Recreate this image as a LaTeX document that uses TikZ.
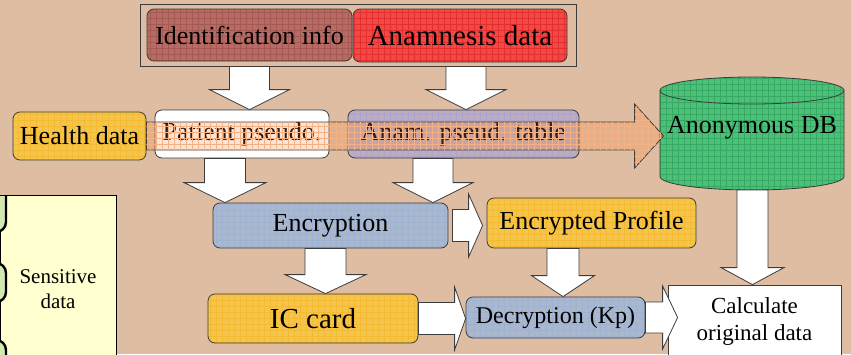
\documentclass[tikz,border=0pt]{standalone}
\usepackage{fontspec}
\setmainfont{Liberation Serif}
\newfontfamily\timesface{Liberation Serif}
\usetikzlibrary{calc}
\usetikzlibrary{patterns}
\usepackage{xcolor}

\definecolor{bgtan}{RGB}{222,189,163}
\definecolor{boxline}{RGB}{60,60,60}
\definecolor{idbrown}{RGB}{180,108,100}
\definecolor{idgrid}{RGB}{166,88,82}
\definecolor{anamred}{RGB}{240,74,70}
\definecolor{anamgrid}{RGB}{230,46,46}
\definecolor{gold}{RGB}{242,198,78}
\definecolor{goldgrid}{RGB}{246,186,50}
\definecolor{lilac}{RGB}{188,172,192}
\definecolor{lilacgrid}{RGB}{176,164,200}
\definecolor{steel}{RGB}{172,184,202}
\definecolor{steelgrid}{RGB}{158,178,212}
\definecolor{dbgreen}{RGB}{76,192,118}
\definecolor{dbgrid}{RGB}{54,170,100}
\definecolor{bandor}{RGB}{238,134,66}
\definecolor{bandgrid}{RGB}{244,178,132}
\definecolor{paleyellow}{RGB}{255,255,208}
\definecolor{leafgreen}{RGB}{212,232,178}

\pgfdeclarepatternformonly{cellgrid}{\pgfpoint{-.5pt}{-.5pt}}{\pgfpoint{6.5pt}{6.5pt}}{\pgfpoint{6pt}{6pt}}{%
 \pgfsetlinewidth{.4pt}
 \pgfpathmoveto{\pgfpoint{0pt}{0pt}}\pgfpathlineto{\pgfpoint{6pt}{0pt}}
 \pgfpathmoveto{\pgfpoint{0pt}{0pt}}\pgfpathlineto{\pgfpoint{0pt}{6pt}}
 \pgfusepath{stroke}}

% fat arrows: [style]{from}{to}{shaft half width}{head half width}{head length}
\newcommand{\downblock}[6][blockarrow]{%
 \draw[#1] let \p1=(#2), \p2=(#3) in
  (\x1-#4,\y1) -- (\x1-#4,\y2+#6) -- (\x1-#5,\y2+#6) -- (\x1,\y2)
  -- (\x1+#5,\y2+#6) -- (\x1+#4,\y2+#6) -- (\x1+#4,\y1) -- cycle;}
\newcommand{\rightblock}[6][blockarrow]{%
 \draw[#1] let \p1=(#2), \p2=(#3) in
  (\x1,\y1+#4) -- (\x2-#6,\y1+#4) -- (\x2-#6,\y1+#5) -- (\x2,\y1)
  -- (\x2-#6,\y1-#5) -- (\x2-#6,\y1-#4) -- (\x1,\y1-#4) -- cycle;}

\begin{document}
\begin{tikzpicture}[x=1pt,y=-1pt,
 box/.style={draw=boxline, line width=.8pt, rounded corners=7pt, inner sep=0pt, align=center, font=\timesface\fontsize{26}{30}\selectfont},
 gridbox/.style 2 args={box, preaction={fill=#1}, pattern=cellgrid, pattern color=#2},
 blockarrow/.style={draw=boxline, line width=.8pt, fill=white},
 bandarrow/.style={draw=boxline, line width=.8pt, fill=bandor, fill opacity=.22,
   postaction={pattern=cellgrid, pattern color=bandgrid}}]
\useasboundingbox (0,0) rectangle (851,354);
\clip (0,0) rectangle (851,354);
\fill[bgtan] (0,0) rectangle (851,354);

% sources
\draw[boxline, line width=.8pt] (140,4) rectangle (576,66);
\node[gridbox={idbrown}{idgrid}, minimum width=205pt, minimum height=52pt] (idinfo) at (249.5,35) {Identification info};
\node[gridbox={anamred}{anamgrid}, minimum width=214pt, minimum height=53pt, font=\timesface\fontsize{29}{33}\selectfont] (anam) at (460,35.5) {Anamnesis data};

% middle row
\node[gridbox={gold}{goldgrid}, minimum width=133pt, minimum height=48pt] (health) at (79.5,136) {Health data};
\node[box, fill=white, minimum width=174pt, minimum height=48pt] (pseudo) at (242,134) {Patient pseudo.};
\node[gridbox={lilac}{lilacgrid}, minimum width=231pt, minimum height=48pt] (anamtab) at (463.5,134) {Anam. pseud. table};

% database
\path[draw=boxline, line width=.8pt, preaction={fill=dbgreen}, pattern=cellgrid, pattern color=dbgrid]
 (660,90.5) -- (660,176.5) arc[start angle=180, end angle=0, x radius=92, y radius=13.5]
 -- (844,90.5) arc[start angle=0, end angle=-180, x radius=92, y radius=13.5] -- cycle;
\draw[boxline, line width=.8pt] (660,90.5) arc[start angle=180, end angle=0, x radius=92, y radius=13.5];
\node[font=\timesface\fontsize{26}{30}\selectfont] (db) at (752,128) {Anonymous DB};
\coordinate (dbbase) at (752.5,190);

% lower rows
\node[gridbox={steel}{steelgrid}, minimum width=235pt, minimum height=45pt] (enc) at (330.5,225.5) {Encryption};
\node[gridbox={gold}{goldgrid}, minimum width=209pt, minimum height=50pt] (encprof) at (591.5,223) {Encrypted Profile};
\node[gridbox={gold}{goldgrid}, minimum width=210pt, minimum height=49pt, font=\timesface\fontsize{29}{33}\selectfont] (iccard) at (313,318.5) {IC card};
\node[gridbox={steel}{steelgrid}, minimum width=179pt, minimum height=41pt, font=\timesface\fontsize{24}{28}\selectfont] (decrypt) at (555.5,317.5) {Decryption (Kp)};
\node[box, sharp corners, fill=white, minimum width=173pt, minimum height=73pt, font=\timesface\fontsize{23}{27}\selectfont] (calc) at (754.5,321.5) {Calculate\\original data};

% side note
\node[draw=black, line width=.8pt, fill=paleyellow, minimum width=116pt, minimum height=188pt, align=center, inner sep=0pt,
 font=\timesface\fontsize{21}{25}\selectfont] (sens) at (58,289) {Sensitive\\data};
\begin{scope}
\clip (-1,196) rectangle (116,354);
\foreach \ya/\yb in {150/232, 263/302, 340/420}
 \draw[black, line width=2.4pt, fill=leafgreen, rounded corners=10pt] (-40,\ya) rectangle (6,\yb);
\end{scope}

% arrows
\downblock{$(idinfo.south)+(0,5)$}{pseudo.north}{20pt}{40pt}{20pt}
\downblock{$(anam.south)+(6,4)$}{anamtab.north}{20pt}{40pt}{20pt}
\downblock{$(pseudo.south)+(-17,0)$}{enc.north}{20.5pt}{41pt}{20pt}
\downblock{$(anamtab.south)+(-30.5,0)$}{enc.north}{20pt}{40pt}{20pt}
\downblock{$(enc.south)+(-5,0)$}{iccard.north}{20.5pt}{40.5pt}{19pt}
\downblock{$(encprof.south)+(-28.5,0)$}{decrypt.north}{16pt}{31.5pt}{21pt}
\downblock{dbbase}{calc.north}{15.5pt}{31.5pt}{17pt}
\rightblock{$(enc.east)+(4,0)$}{$(encprof.west)+(-4,0)$}{16pt}{31.5pt}{14pt}
\rightblock{iccard.east}{decrypt.west}{16pt}{31.5pt}{11pt}
\rightblock{decrypt.east}{$(calc.west)+(10,0)$}{15.5pt}{31.5pt}{15pt}
\rightblock[bandarrow]{health.east}{db.west}{14pt}{32pt}{29pt}
\end{tikzpicture}
\end{document}
